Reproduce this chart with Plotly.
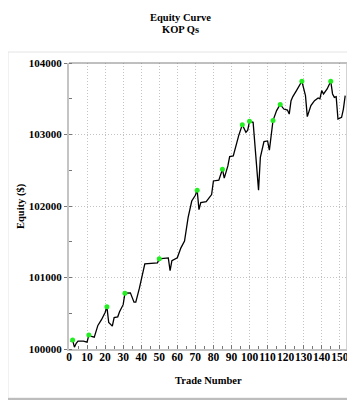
import plotly.graph_objects as go

trade = [1, 2, 3, 4, 5, 8, 10, 11, 12, 14, 16, 18, 20, 21, 22, 24, 25, 27, 28, 30, 31,
         34, 36, 37, 39, 41, 42, 49, 50, 55, 56, 57, 60, 62, 64, 66, 68, 70, 71, 72,
         73, 76, 79, 80, 83, 85, 86, 88, 89, 91, 93, 94, 96, 98, 99, 100, 102, 103,
         105, 106, 108, 110, 111, 113, 115, 117, 119, 121, 122, 123, 124, 126, 128,
         129, 131, 132, 134, 136, 138, 139, 140, 141, 143, 145, 146, 147, 148, 149,
         151, 152, 153]
equity = [100100, 100125, 100025, 100080, 100110, 100110, 100095, 100195, 100180,
          100165, 100330, 100410, 100510, 100590, 100370, 100320, 100440, 100450,
          100520, 100620, 100780, 100785, 100655, 100655, 100850, 101090, 101190,
          101205, 101262, 101275, 101095, 101235, 101275, 101415, 101510, 101840,
          102070, 102150, 102220, 101950, 102048, 102060, 102160, 102350, 102360,
          102515, 102390, 102560, 102690, 102700, 102900, 102985, 103137, 103030,
          103060, 103184, 103170, 102820, 102220, 102680, 102900, 102910, 102780,
          103195, 103335, 103420, 103356, 103342, 103286, 103474, 103530, 103614,
          103707, 103745, 103544, 103250, 103404, 103474, 103511, 103500, 103614,
          103567, 103637, 103745, 103567, 103520, 103530, 103216, 103240, 103356,
          103544]

high_trade = [2, 11, 21, 31, 50, 71, 85, 96, 100, 113, 117, 129, 145]
high_equity = [100125, 100195, 100590, 100780, 101262, 102220, 102515, 103137,
               103184, 103195, 103420, 103745, 103745]

x_ticks = list(range(0, 151, 10))
y_ticks = [100000, 101000, 102000, 103000, 104000]

FONT = "Liberation Serif"

fig = go.Figure()
fig.add_trace(go.Scatter(x=trade, y=equity, mode="lines",
                         line=dict(color="black", width=1.3), hoverinfo="skip"))
fig.add_trace(go.Scatter(x=high_trade, y=high_equity, mode="markers",
                         marker=dict(color="#22ee22", size=5, line=dict(width=0)),
                         hoverinfo="skip"))

fig.update_layout(
    width=355, height=400,
    margin=dict(l=61, r=16, t=55, b=59),
    paper_bgcolor="white", plot_bgcolor="white",
    showlegend=False,
    font=dict(family=FONT, size=10.5, color="black"),
    xaxis=dict(range=[0, 154], tickvals=x_ticks, ticktext=[f"<b>{v}</b>" for v in x_ticks],
               tickangle=0, automargin=False, ticklabelstandoff=-4,
               showgrid=True, gridcolor="#c4c4c4", griddash="1px,2px", gridwidth=1,
               zeroline=False, showline=True, linecolor="#c4c4c4", linewidth=2,
               ticks="inside", ticklen=4, tickcolor="#777777",
               minor=dict(dtick=5, tick0=0, ticks="inside", ticklen=3, tickcolor="#777777", showgrid=False),
               tickfont=dict(family=FONT, size=11.5)),
    yaxis=dict(range=[100000, 104000], tickvals=y_ticks, ticktext=[f"<b>{v}</b>" for v in y_ticks],
               automargin=False, ticklabelstandoff=0,
               showgrid=True, gridcolor="#c4c4c4", griddash="1px,2px", gridwidth=1,
               zeroline=False, showline=True, linecolor="#c4c4c4", linewidth=2,
               ticks="outside", ticklen=3, tickcolor="#777777",
               minor=dict(dtick=500, ticks="inside", ticklen=3, tickcolor="#777777", showgrid=False),
               tickfont=dict(family=FONT, size=11)),
    shapes=[
        # outer frame
        dict(type="rect", xref="paper", yref="paper", x0=-61/278, x1=(347-61)/278,
             y0=(341-390)/286, y1=(341-44)/286, line=dict(color="#e4e4e4", width=1),
             layer="below"),
        # shadow right
        dict(type="rect", xref="paper", yref="paper", x0=(347-61)/278, x1=(352-61)/278,
             y0=(341-394)/286, y1=(341-46)/286, line=dict(width=0), fillcolor="#bdbdbd"),
        # shadow bottom
        dict(type="rect", xref="paper", yref="paper", x0=-61/278, x1=(352-61)/278,
             y0=(341-394)/286, y1=(341-390)/286, line=dict(width=0), fillcolor="#bdbdbd"),
        # plot top border
        dict(type="line", xref="paper", yref="paper", x0=0, x1=1, y0=1, y1=1,
             line=dict(color="#808080", width=1)),
        # plot right border
        dict(type="line", xref="paper", yref="paper", x0=1, x1=1, y0=0, y1=1,
             line=dict(color="#c4c4c4", width=1.5)),
    ],
    annotations=[
        dict(text="<b>Equity Curve</b>", xref="paper", yref="paper",
             x=(172-61)/278, y=(341-9.5)/286, showarrow=False, xanchor="center", yanchor="middle",
             font=dict(family=FONT, size=10.5)),
        dict(text="<b>KOP Qs</b>", xref="paper", yref="paper",
             x=(172-61)/278, y=(341-21.5)/286, showarrow=False, xanchor="center", yanchor="middle",
             font=dict(family=FONT, size=10.5)),
        dict(text="<b>Trade Number</b>", xref="paper", yref="paper",
             x=0.5, y=(341-372.5)/286, showarrow=False, xanchor="center", yanchor="middle",
             font=dict(family=FONT, size=10.5)),
        dict(text="<b>Equity ($)</b>", xref="paper", yref="paper",
             x=(13-61)/278, y=0.5, showarrow=False, xanchor="center", yanchor="middle",
             textangle=-90, font=dict(family=FONT, size=10.5)),
    ],
)

fig.write_html("out.html")
